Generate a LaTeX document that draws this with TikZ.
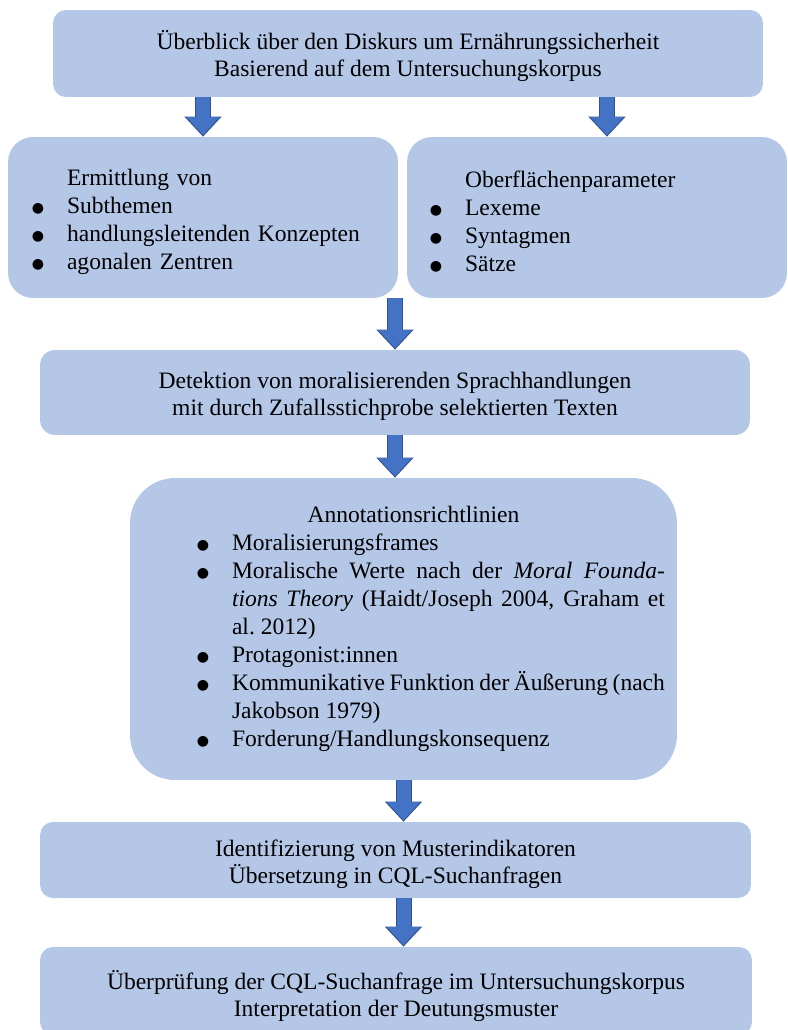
\documentclass[tikz,border=0pt]{standalone}
\usepackage{fontspec}
\setmainfont{Liberation Serif}
\newfontfamily\dotfont{DejaVu Sans}
\usetikzlibrary{arrows.meta,calc}
\definecolor{boxblue}{HTML}{B4C7E7}
\definecolor{arrowblue}{HTML}{4472C4}
\definecolor{arrowdark}{HTML}{2F528F}
\setlength{\parindent}{0pt}
\newcommand{\bigdot}{\raisebox{0.05em}{\dotfont\fontsize{8}{8}\selectfont ●}}
\newcommand{\topstrut}{\rule{0pt}{1.05em}}
\newenvironment{pointlist}[1]{\begin{list}{\bigdot}{\setlength{\leftmargin}{#1}\setlength{\labelwidth}{0pt}\setlength{\labelsep}{0.46cm}\setlength{\topsep}{0pt}\setlength{\partopsep}{0pt}\setlength{\itemsep}{0pt}\setlength{\parsep}{0pt}\renewcommand{\makelabel}[1]{\makebox[0pt][r]{##1}}}}{\end{list}}
\tikzset{
	box/.style={fill=boxblue, inner xsep=0.2cm, inner ysep=0pt, font=\fontsize{13.4}{15.4}\selectfont},
	listbox/.style={box, font=\fontsize{13.4}{15.9}\selectfont},
	blockarrow/.style={line width=0.28cm, color=arrowblue, -{Triangle[width=0.64cm,length=0.36cm]}, shorten >=0.03cm,
		preaction={draw=arrowdark, line width=0.32cm, -{Triangle[width=0.72cm,length=0.40cm]}, shorten >=0cm}}
}

\begin{document}
\begin{tikzpicture}[x=0.02cm, y=-0.02cm]
		%%%%% START %%%%%
		\useasboundingbox (0, 0) rectangle (787, 1030);
		
		\node[box, rounded corners=0.26cm, minimum width=14.2cm, minimum height=1.74cm, align=center] (overview) at (408, 53.5) {\topstrut Überblick über den Diskurs um Ernährungssicherheit\\Basierend auf dem Untersuchungskorpus};
		
		\node[listbox, rounded corners=0.5cm, minimum width=7.8cm, minimum height=3.22cm, text width=7.4cm] (subtopics) at (203, 217.5) {\topstrut\hspace*{0.98cm}Ermittlung von
			\begin{pointlist}{0.98cm}
				\item Subthemen
				\item handlungsleitenden Konzepten
				\item agonalen Zentren
			\end{pointlist}};
		\node[listbox, rounded corners=0.5cm, minimum width=7.6cm, minimum height=3.22cm, text width=7.2cm] (surface) at (597, 217.5) {\topstrut\hspace*{0.96cm}Oberflächenparameter
			\begin{pointlist}{0.96cm}
				\item Lexeme
				\item Syntagmen
				\item Sätze
			\end{pointlist}};
		
		\node[box, rounded corners=0.3cm, minimum width=14.2cm, minimum height=1.7cm, align=center] (detection) at (395, 392.5) {\topstrut Detektion von moralisierenden Sprachhandlungen\\mit durch Zufallsstichprobe selektierten Texten};
		
		\node[listbox, rounded corners=0.9cm, minimum width=10.94cm, minimum height=6.04cm, text width=10.46cm, align=justify] (guidelines) at (403.5, 629) {{\centering\hspace*{0.4cm}Annotationsrichtlinien\par}
			\begin{pointlist}{1.8cm}
				\item Moralisierungsframes
				\item Moralische Werte nach der \textit{Moral Founda-}\linebreak\textit{tions Theory} (Haidt/Joseph 2004, Graham et\linebreak al.~2012)
				\item Protagonist:innen
				\item Kommunikative Funktion der Äußerung (nach\linebreak Jakobson 1979)
				\item Forderung/Handlungskonsequenz
			\end{pointlist}};
		
		\node[box, rounded corners=0.26cm, minimum width=14.22cm, minimum height=1.52cm, align=center] (indicators) at (395.5, 860) {\topstrut Identifizierung von Musterindikatoren\\Übersetzung in CQL-Suchanfragen};
		\node[box, rounded corners=0.26cm, minimum width=14.24cm, minimum height=1.76cm, align=center] (check) at (396, 991) {\rule{0pt}{1.2em}Überprüfung der CQL-Suchanfrage im Untersuchungskorpus\\Interpretation der Deutungsmuster};
		
		\coordinate (r1) at ($(surface.north)+(10, 0)$);
		\draw[blockarrow] (overview.south -| subtopics.north) -- (subtopics.north);
		\draw[blockarrow] (overview.south -| r1) -- (r1);
		\draw[blockarrow] (subtopics.south -| detection.north) -- (detection.north);
		\draw[blockarrow] (detection.south) -- (detection.south |- guidelines.north);
		\draw[blockarrow] (guidelines.south) -- (guidelines.south |- indicators.north);
		\draw[blockarrow] (indicators.south -| guidelines.south) -- (check.north -| guidelines.south);
		
		%%%%% END %%%%%
	\end{tikzpicture}
\end{document}
